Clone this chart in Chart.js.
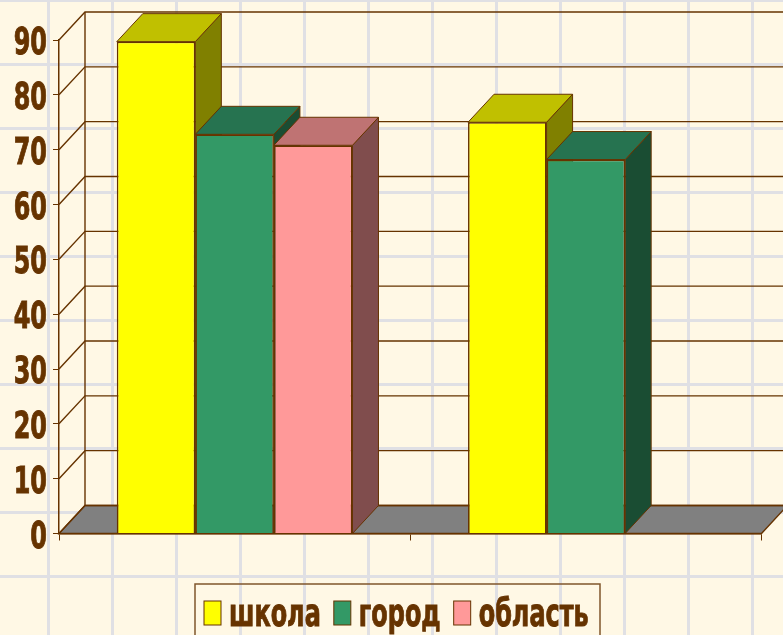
<!DOCTYPE html>
<html>
<head>
<meta charset="utf-8">
<style>
html, body { margin: 0; padding: 0; width: 783px; height: 635px; overflow: hidden; }
body {
    background-color: #fff8e5;
    background-image:
        linear-gradient(to right, #e0e0e4 3px, transparent 3px),
        linear-gradient(to bottom, #e0e0e4 3px, transparent 3px);
    background-size: 64px 64px;
    background-position: 47px -1px;
}
canvas { display: block; }
</style>
<script src="https://cdn.jsdelivr.net/npm/chart.js@4"></script>
</head>
<body>
<canvas id="chart" width="783" height="635"></canvas>
<script>
const categories = ["", ""];
const school = [89.7, 75];
const city = [72.8, 68.2];
const region = [70.8, null];
const yTicks = [0, 10, 20, 30, 40, 50, 60, 70, 80, 90];

const brown = "#663300";
const textFont = "bold 38px 'DejaVu Sans'";
const squeeze = 0.63;
const depthX = 26;
const depthY = 28;

function poly(ctx, pts, fill) {
    ctx.beginPath();
    pts.forEach((p, i) => i ? ctx.lineTo(p[0], p[1]) : ctx.moveTo(p[0], p[1]));
    ctx.closePath();
    ctx.fillStyle = fill;
    ctx.fill();
    ctx.stroke();
}

// the font in the picture is much narrower than anything installed
function narrowText(ctx, str, x, y) {
    ctx.save();
    ctx.translate(x, y);
    ctx.scale(squeeze, 1);
    ctx.strokeStyle = brown;
    ctx.lineWidth = 1;
    ctx.strokeText(str, 0, 0);
    ctx.fillText(str, 0, 0);
    ctx.restore();
}

// back wall, floor and the side/top faces of the bars
const depthPlugin = {
    id: "depth",
    beforeDatasetsDraw(chart) {
        const ctx = chart.ctx;
        const y = chart.scales.y;
        const left = chart.chartArea.left;
        const right = chart.chartArea.right;
        const floor = y.getPixelForValue(0);

        ctx.save();
        ctx.strokeStyle = brown;
        ctx.lineWidth = 1.4;

        poly(ctx, [[left, floor], [right, floor], [right + depthX, floor - depthY], [left + depthX, floor - depthY]], "#808080");

        yTicks.forEach(v => {
            const py = y.getPixelForValue(v);
            ctx.beginPath();
            ctx.moveTo(left, py);
            ctx.lineTo(left + depthX, py - depthY);
            ctx.lineTo(right + depthX + 30, py - depthY);
            ctx.stroke();
        });
        ctx.beginPath();
        ctx.moveTo(left + depthX, floor - depthY);
        ctx.lineTo(left + depthX, y.getPixelForValue(90) - depthY);
        ctx.stroke();

        ctx.lineWidth = 1;
        chart.data.datasets.forEach((ds, i) => {
            chart.getDatasetMeta(i).data.forEach((bar, j) => {
                if (ds.data[j] === null) return;
                const x0 = bar.x - bar.width / 2;
                const x1 = bar.x + bar.width / 2;
                poly(ctx, [[x1, bar.y], [x1 + depthX, bar.y - depthY], [x1 + depthX, floor - depthY], [x1, floor]], ds.sideColor);
                poly(ctx, [[x0, bar.y], [x1, bar.y], [x1 + depthX, bar.y - depthY], [x0 + depthX, bar.y - depthY]], ds.topColor);
            });
        });
        ctx.restore();
    },
    afterDraw(chart) {
        const ctx = chart.ctx;
        const y = chart.scales.y;
        ctx.save();
        ctx.font = textFont;
        ctx.fillStyle = brown;
        ctx.textBaseline = "alphabetic";
        ctx.textAlign = "left";

        yTicks.forEach(v => {
            const label = String(v);
            const w = ctx.measureText(label).width * squeeze;
            narrowText(ctx, label, 47 - w, y.getPixelForValue(v) + 14);
        });

        ctx.strokeStyle = "#80562b";
        ctx.lineWidth = 1.5;
        ctx.strokeRect(195, 584, 405, 60);

        let x = 204;
        chart.data.datasets.forEach(ds => {
            ctx.fillStyle = ds.backgroundColor;
            ctx.strokeStyle = brown;
            ctx.lineWidth = 1;
            ctx.fillRect(x, 601, 17, 24);
            ctx.strokeRect(x, 601, 17, 24);
            ctx.fillStyle = brown;
            narrowText(ctx, ds.label, x + 25, 626);
            x += 25 + ctx.measureText(ds.label).width * squeeze + 13;
        });
        ctx.restore();
    }
};

new Chart(document.getElementById("chart"), {
    type: "bar",
    data: {
        labels: categories,
        datasets: [
            { label: "школа", data: school, backgroundColor: "#ffff00", topColor: "#c0c000", sideColor: "#808000" },
            { label: "город", data: city, backgroundColor: "#339966", topColor: "#267350", sideColor: "#1a4d33" },
            { label: "область", data: region, backgroundColor: "#ff9999", topColor: "#bf7373", sideColor: "#804d4d" }
        ].map(ds => Object.assign(ds, {
            borderColor: brown,
            borderWidth: 1.6,
            barPercentage: 1,
            categoryPercentage: 0.671
        }))
    },
    options: {
        responsive: false,
        animation: false,
        layout: { padding: { top: 40, right: 21.5, left: 0, bottom: 0 } },
        plugins: { legend: { display: false }, tooltip: { enabled: false } },
        scales: {
            x: {
                afterFit(scale) { scale.height = 101.5; },
                border: { color: brown, width: 1.5 },
                grid: { drawOnChartArea: false, color: brown, tickLength: 7 },
                ticks: { display: false }
            },
            y: {
                min: 0,
                max: 90,
                afterFit(scale) { scale.width = 59; },
                border: { color: brown, width: 1.5 },
                grid: { drawOnChartArea: false, color: brown, tickLength: 6 },
                ticks: { display: false, stepSize: 10 }
            }
        }
    },
    plugins: [depthPlugin]
});
</script>
</body>
</html>
